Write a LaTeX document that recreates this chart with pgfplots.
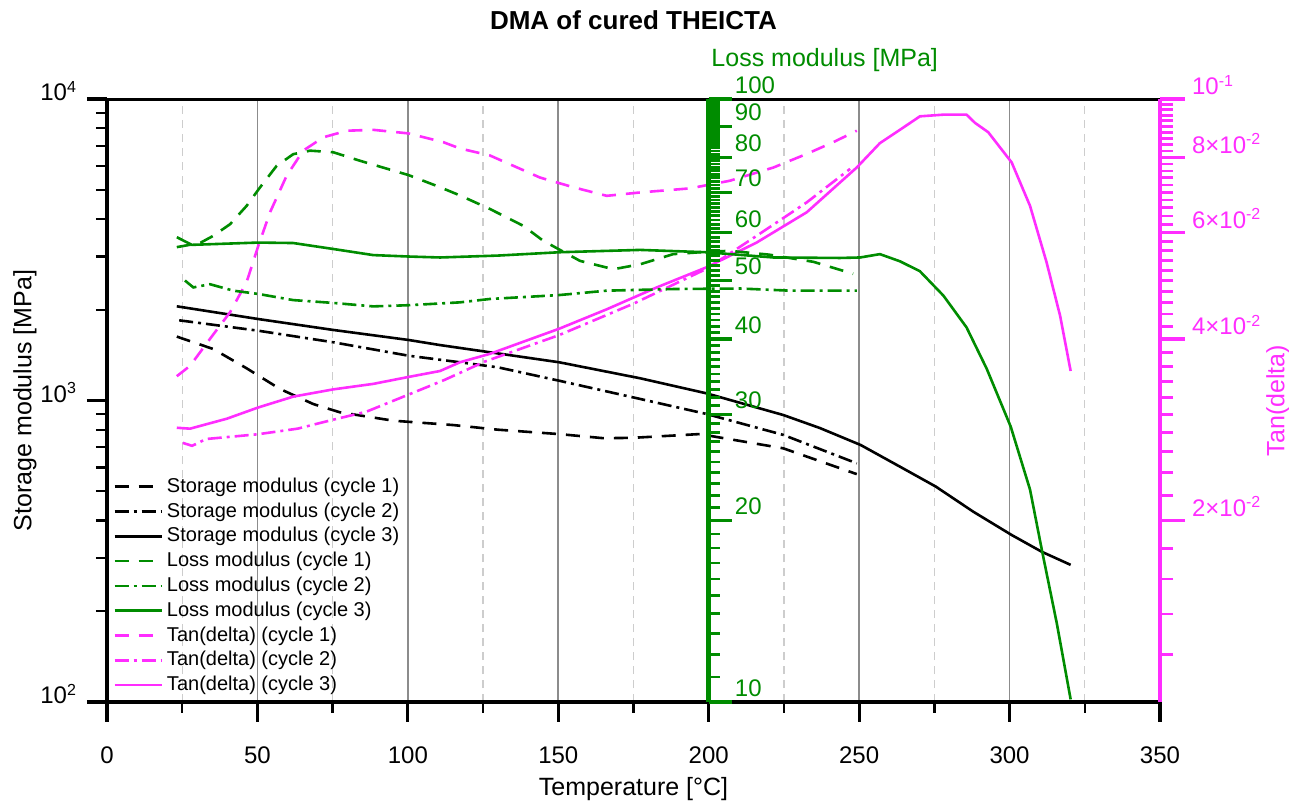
\documentclass[border=0pt]{standalone}
\usepackage{fontspec}
\setmainfont{Liberation Sans}
\usepackage{pgfplots}
\pgfplotsset{compat=1.18}

\definecolor{lossgreen}{RGB}{0,140,0}
\definecolor{tanpink}{RGB}{255,45,255}
\definecolor{gridmaj}{RGB}{140,140,140}
\definecolor{gridmin}{RGB}{205,205,205}

\tikzset{
  dsh/.style={dash pattern=on 7pt off 5pt},
  dshdot/.style={dash pattern=on 7pt off 2.5pt on 1.5pt off 2.5pt},
  crv/.style={line width=1.3pt},
}

\begin{document}
\begin{tikzpicture}
\path[use as bounding box] (-53.5pt,-49pt) rectangle (591pt,351pt);

% storage modulus, left axis
\begin{axis}[
  scale only axis, width=526.5pt, height=301.5pt, at={(0,0)}, anchor=south west,
  ymode=log,
  xmin=0, xmax=350, ymin=100, ymax=10000,
  axis x line*=bottom, axis y line*=left,
  axis line style={line width=2.4pt},
  xtick={0,50,...,350}, minor xtick={25,75,...,325},
  ytick={100,1000,10000},
  yticklabels={10\textsuperscript{2},10\textsuperscript{3},10\textsuperscript{4}},
  minor ytick={200,300,400,500,600,700,800,900,2000,3000,4000,5000,6000,7000,8000,9000},
  tick align=outside,
  major tick length=10pt, minor tick length=5.5pt,
  major tick style={line width=1.6pt, black},
  minor tick style={line width=1.2pt, black},
  xmajorgrids, xminorgrids,
  major grid style={gridmaj, line width=0.8pt, solid},
  minor grid style={gridmin, line width=0.7pt, dash pattern=on 4pt off 3pt},
  tick label style={font=\fontsize{12}{14}\selectfont},
  /pgf/number format/assume math mode=true,
  xticklabel style={yshift=-9pt},
  yticklabel style={yshift=4pt, xshift=-1.5pt},
  title={DMA of cured THEICTA},
  title style={at={(axis description cs:0.5,1.111)}, anchor=center,
    font=\bfseries\fontsize{13}{15}\selectfont},
  xlabel={Temperature [°C]},
  xlabel style={at={(axis description cs:0.5,-0.145)}, anchor=center,
    font=\fontsize{12.5}{15}\selectfont},
  ylabel={Storage modulus [MPa]},
  ylabel style={at={(axis description cs:-0.0779,0.5)}, anchor=center,
    font=\fontsize{12.5}{15}\selectfont},
  legend style={at={(axis description cs:0,0)}, anchor=south west, xshift=3pt, yshift=3pt,
    draw=none, fill=none, inner sep=0pt, row sep=1.9pt,
    font=\fontsize{10}{12}\selectfont,
    nodes={inner ysep=0pt, inner xsep=2pt, text height=8pt, text depth=2.5pt}},
  legend cell align=left,
  legend image code/.code={\draw[#1] (0pt,0pt) -- (23.5pt,0pt);},
]
\addlegendimage{black, crv, dsh}
\addlegendimage{black, crv, dshdot}
\addlegendimage{black, crv}
\addlegendimage{lossgreen, crv, dsh}
\addlegendimage{lossgreen, crv, dshdot}
\addlegendimage{lossgreen, crv}
\addlegendimage{tanpink, crv, dsh}
\addlegendimage{tanpink, crv, dshdot}
\addlegendimage{tanpink, crv}
\legend{Storage modulus (cycle 1),Storage modulus (cycle 2),Storage modulus (cycle 3),
  Loss modulus (cycle 1),Loss modulus (cycle 2),Loss modulus (cycle 3),
  Tan(delta) (cycle 1),Tan(delta) (cycle 2),Tan(delta) (cycle 3)}

% cycle 1
\addplot[black, crv, dsh, forget plot] coordinates {
  (23.2,1629) (35.3,1482) (46.4,1279) (57.5,1092) (68.6,973) (77.4,914)
  (95.2,857) (115.1,829) (130,800) (150.2,774) (165,750) (174.7,752)
  (197,774) (224.8,694) (249.2,570)};
% cycle 2
\addplot[black, crv, dshdot, forget plot] coordinates {
  (24,1845) (50.3,1704) (75.2,1560) (100.2,1408) (117.3,1339) (130,1288)
  (150.3,1163) (177.2,1012) (199.3,902) (224.8,769) (249.2,619)};
% cycle 3
\addplot[black, crv, forget plot] coordinates {
  (23.2,2053) (50.3,1863) (75.2,1714) (100.2,1588) (110.7,1527) (150.3,1339)
  (177.2,1185) (199.3,1056) (224.8,895) (237,810) (250.5,712) (263.6,603)
  (275.5,518) (287.9,428) (300.7,358) (310.7,315) (320.3,285)};
\draw[line width=2.4pt] (rel axis cs:0,1) -- (rel axis cs:1,1);
\end{axis}

% tan delta, right axis
\begin{axis}[
  scale only axis, width=526.5pt, height=301.5pt, at={(0,0)}, anchor=south west,
  ymode=log,
  xmin=0, xmax=350, ymin=0.01, ymax=0.1,
  axis x line=none, axis y line*=right,
  axis line style={tanpink, line width=2pt},
  ytick={0.02,0.04,0.06,0.08,0.1},
  yticklabels={2×10\textsuperscript{-2},4×10\textsuperscript{-2},6×10\textsuperscript{-2},8×10\textsuperscript{-2},10\textsuperscript{-1}},
  minor ytick={0.012,0.014,0.016,0.018,0.022,0.024,0.026,0.028,0.03,0.032,0.034,0.036,0.038,
    0.042,0.044,0.046,0.048,0.05,0.052,0.054,0.056,0.058,0.062,0.064,0.066,0.068,0.07,
    0.072,0.074,0.076,0.078,0.082,0.084,0.086,0.088,0.09,0.092,0.094,0.096,0.098},
  tick align=outside,
  major tick length=12.5pt, minor tick length=6.5pt,
  major tick style={tanpink, line width=1.6pt},
  minor tick style={tanpink, line width=1.4pt},
  tick label style={font=\fontsize{12}{14}\selectfont},
  yticklabel style={tanpink, yshift=7pt},
  ylabel={Tan(delta)},
  ylabel style={at={(axis description cs:1.112,0.5)}, anchor=center,
    tanpink, font=\fontsize{12.5}{15}\selectfont},
]
\addplot[tanpink, crv, dsh] coordinates {
  (23.2,0.0347) (27.6,0.0361) (34.2,0.0400) (40.9,0.0443) (46.4,0.0497) (50.3,0.0571)
  (54.2,0.0649) (59.7,0.0746) (65.2,0.0821) (71.9,0.0864) (79.7,0.0886) (88.5,0.0889)
  (100.2,0.0877) (111.8,0.0848) (117.3,0.0828) (127.3,0.0806) (143.9,0.0741) (155,0.0714)
  (166.1,0.0691) (177.2,0.0700) (193.8,0.0711) (207,0.0732) (221.5,0.0770) (232.6,0.0811)
  (241.4,0.0848) (249.2,0.0886)};
\addplot[tanpink, crv, dshdot] coordinates {
  (25.2,0.0269) (28.3,0.0266) (32.9,0.0273) (50.1,0.0278) (63.3,0.0284) (75.3,0.0294)
  (86.2,0.0303) (99.9,0.0323) (112.1,0.0342) (125.6,0.0367) (150.3,0.0406) (175.1,0.0458)
  (199.3,0.0523) (215.9,0.0593) (232.6,0.0674) (247,0.0766)};
\addplot[tanpink, crv] coordinates {
  (23.2,0.0285) (27.6,0.0284) (39.8,0.0295) (50.3,0.0308) (61.9,0.0321) (75.2,0.0330)
  (88.5,0.0337) (100.2,0.0346) (110.7,0.0354) (117.3,0.0366) (127.3,0.0378) (150.3,0.0416)
  (166.1,0.0448) (182.7,0.0487) (199.3,0.0526) (215.9,0.0578) (232.6,0.0649) (249.2,0.0770)
  (256.9,0.0845) (264.7,0.0897) (270.2,0.0936) (278,0.0942) (285.7,0.0942) (288.5,0.0913)
  (292.9,0.0881) (300.7,0.0785) (306.8,0.0665) (312.3,0.0536) (316.8,0.0437) (320.3,0.0354)};
\end{axis}

% loss modulus, axis at 200 C
\begin{axis}[
  scale only axis, width=225.643pt, height=301.5pt, at={(526.5pt,0)}, anchor=south east,
  ymode=log,
  xmin=200, xmax=350, ymin=10, ymax=100,
  axis x line=none, axis y line*=left,
  axis on top,
  axis line style={lossgreen, line width=2.4pt},
  ytick={10,20,30,40,50,60,70,80,90,100},
  yticklabels={10,20,30,40,50,60,70,80,90,100},
  minor ytick={10,11,...,100},
  tick align=inside,
  major tick length=11.5pt, minor tick length=5.5pt,
  major tick style={lossgreen, line width=1.6pt},
  minor tick style={lossgreen, line width=1.4pt},
  tick label style={font=\fontsize{12}{14}\selectfont},
  yticklabel style={lossgreen, anchor=west, xshift=9.6pt, yshift=7pt},
  ylabel={Loss modulus [MPa]},
  ylabel style={at={(axis description cs:0.257,1.0647)}, anchor=center, rotate=-90,
    lossgreen, font=\fontsize{12.5}{15}\selectfont},
  clip=false,
]
\addplot[lossgreen, crv, dsh] coordinates {
  (23.2,56.8) (30.9,57.7) (35.3,59.3) (40.9,62.0) (46.4,66.5) (50.9,71.4) (56.4,77.5)
  (61.9,81.0) (67.5,82.1) (75.2,81.6) (84.1,79.0) (100.2,74.8) (110.7,71.4) (117.3,69.2)
  (127.3,65.7) (138.4,61.6) (145,58.2) (157.2,53.9) (168.3,52.2) (177.2,53.2) (188.2,55.3)
  (199.3,55.8) (207,56.0) (220,55.2) (234.8,53.7) (248,51.3)};
\addplot[lossgreen, crv, dshdot] coordinates {
  (25.9,50.0) (28.7,48.7) (34.2,49.3) (42,48.1) (50.3,47.5) (61.9,46.4) (75.2,45.9)
  (88.5,45.3) (100.2,45.5) (117.3,46.0) (127.3,46.6) (150.3,47.3) (166.1,48.1) (188.2,48.4)
  (210.4,48.5) (227,48.1) (249.2,48.1)};
\addplot[lossgreen, crv] coordinates {
  (23.2,59.0) (28.2,57.3) (50.3,57.8) (61.9,57.7) (75.2,56.4) (88.5,55.1) (100.2,54.8)
  (110.7,54.6) (130,55.0) (150.3,55.7) (177.2,56.2) (199.3,55.7) (221.5,54.6) (243.6,54.5)
  (250.3,54.6) (256.9,55.3) (263.6,53.8) (270.2,51.8) (278,47.2) (285.7,41.8) (292.4,35.7)
  (300.4,28.6) (306.8,22.5) (310.7,17.9) (315.7,13.5) (320.3,10.1)};
\end{axis}

\end{tikzpicture}
\end{document}
